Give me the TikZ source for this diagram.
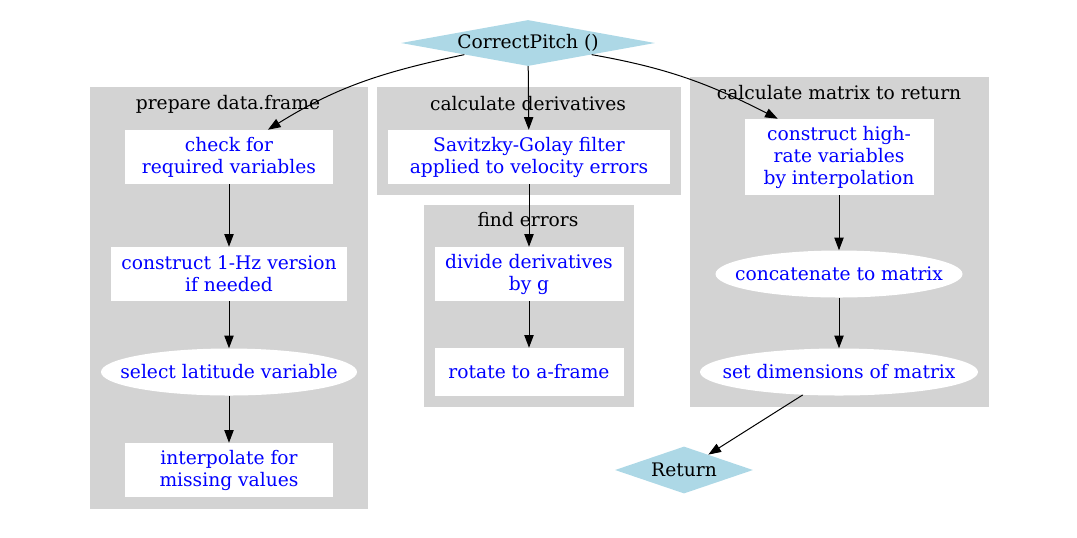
\documentclass[tikz,border=0pt]{standalone}
\usepackage{fontspec}
\setmainfont{DejaVu Serif}
\usetikzlibrary{shapes.geometric,arrows.meta}
\definecolor{clgray}{RGB}{211,211,211}
\definecolor{tblue}{RGB}{173,216,230}
\begin{document}
\begin{tikzpicture}[x=0.75pt,y=-0.75pt,
  every node/.style={font=\fontsize{14}{16.5}\selectfont, inner sep=0pt},
  task/.style={rectangle, fill=white, text=blue, align=center},
  oval/.style={ellipse, fill=white, text=blue},
  term/.style={diamond, fill=tblue, aspect=5},
  edge/.style={-{Triangle[length=9.5pt,width=7pt]}, line width=0.75pt}]
\useasboundingbox (0,0) rectangle (1077,537);
% clusters
\fill[clgray] (90,87) rectangle (368,509);
\node (lprep) at (228,104) {prepare data.frame};
\fill[clgray] (377,87) rectangle (681,195);
\node (lderiv) at (528,104) {calculate derivatives};
\fill[clgray] (424,205) rectangle (634,407);
\node (lerr) at (528,220) {find errors};
\fill[clgray] (690,77) rectangle (989,407);
\node (lmat) at (839,93) {calculate matrix to return};
% nodes
\node[term, minimum width=190.5pt, minimum height=34.5pt] (cp) at (528,43) {\makebox[0pt]{CorrectPitch ()}};
\node[task, minimum width=156pt, minimum height=40.5pt] (chk) at (229,157) {check for\\required variables};
\node[task, minimum width=177pt, minimum height=40.5pt] (hz) at (229,274) {construct 1-Hz version\\if needed};
\node[oval, minimum width=192pt, minimum height=35.25pt] (lat) at (229,372) {\makebox[0pt]{select latitude variable}};
\node[task, minimum width=156pt, minimum height=40.5pt] (itp) at (229,470) {interpolate for\\missing values};
\node[task, minimum width=211.5pt, minimum height=40.5pt] (sg) at (529,157) {Savitzky-Golay filter\\applied to velocity errors};
\node[task, minimum width=141.75pt, minimum height=40.5pt] (div) at (529,274) {divide derivatives\\by g};
\node[task, minimum width=141.75pt, minimum height=36pt] (rot) at (529,372) {rotate to a-frame};
\node[task, minimum width=141.75pt, minimum height=57pt] (chm) at (839,157) {construct high-\\rate variables\\by interpolation};
\node[oval, minimum width=185.25pt, minimum height=35.25pt] (cat) at (839,274) {\makebox[0pt]{concatenate to matrix}};
\node[oval, minimum width=208.5pt, minimum height=35.25pt] (sd) at (839,372) {\makebox[0pt]{set dimensions of matrix}};
\node[term, minimum width=103.5pt, minimum height=35.25pt] (ret) at (684,470) {\makebox[0pt]{Return}};
% edges
\draw[edge] (cp.south west) to[out=192, in=32] (chk.35);
\draw[edge] (cp) -- (sg);
\draw[edge] (cp.south east) to[out=-10, in=153] (chm.148);
\draw[edge] (chk) -- (hz);
\draw[edge] (hz) -- (lat);
\draw[edge] (lat) -- (itp);
\draw[edge] (sg) -- (div);
\draw[edge] (div) -- (rot);
\draw[edge] (chm) -- (cat);
\draw[edge] (cat) -- (sd);
\draw[edge] (sd) -- (ret);
\end{tikzpicture}
\end{document}
